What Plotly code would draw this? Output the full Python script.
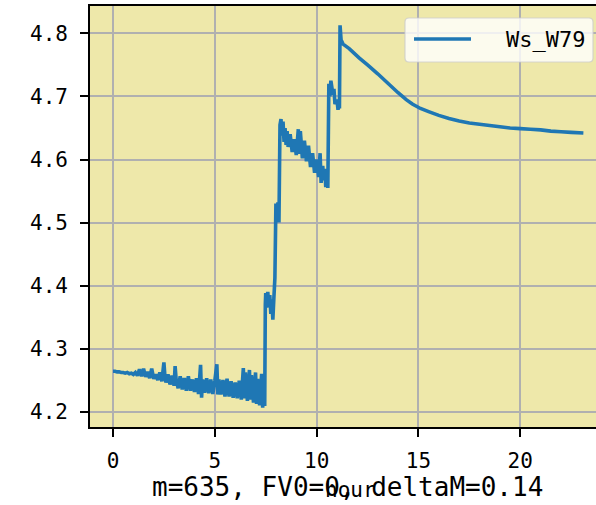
import plotly.graph_objects as go

# ---- data ----
series_name = "Ws_W79"
hours = [
    0.0, 0.1, 0.2, 0.3, 0.4, 0.5, 0.6, 0.7, 0.8, 0.9,
    1.0, 1.1, 1.2, 1.3, 1.4, 1.5, 1.6, 1.7, 1.8, 1.9,
    2.0, 2.1, 2.2, 2.3, 2.4, 2.5, 2.55, 2.6, 2.7, 2.8,
    2.9, 3.0, 3.05, 3.1, 3.2, 3.3, 3.4, 3.5, 3.6, 3.7,
    3.8, 3.9, 4.0, 4.1, 4.2, 4.3, 4.35, 4.4, 4.5, 4.6,
    4.7, 4.8, 4.9, 5.0, 5.1, 5.15, 5.2, 5.3, 5.4, 5.5,
    5.6, 5.7, 5.8, 5.9, 6.0, 6.1, 6.2, 6.3, 6.4, 6.45,
    6.5, 6.6, 6.7, 6.75, 6.8, 6.9, 7.0, 7.05, 7.1, 7.2,
    7.3, 7.35, 7.4, 7.45, 7.48, 7.5, 7.55, 7.6, 7.65, 7.7,
    7.75, 7.8, 7.85, 7.9, 7.95, 8.0, 8.05, 8.1, 8.15, 8.2,
    8.25, 8.3, 8.35, 8.4, 8.45, 8.5, 8.55, 8.6, 8.7, 8.8,
    8.9, 9.0, 9.1, 9.15, 9.2, 9.3, 9.4, 9.5, 9.6, 9.7,
    9.8, 9.9, 10.0, 10.1, 10.17, 10.22, 10.3, 10.35, 10.4, 10.45,
    10.5, 10.55, 10.6, 10.65, 10.7, 10.8, 10.85, 10.9, 11.0, 11.05,
    11.1, 11.12, 11.15, 11.2, 11.3, 11.6, 12.1, 12.5, 13.0, 13.5,
    14.0, 14.4, 14.7, 15.1, 15.5, 16.0, 16.5, 17.0, 17.5, 18.0,
    18.5, 19.0, 19.5, 20.0, 20.5, 21.0, 21.5, 22.0, 22.5, 23.1,
]
ws_w79 = [
    4.264, 4.264, 4.263, 4.263, 4.262, 4.262, 4.261, 4.262, 4.260, 4.261,
    4.259, 4.262, 4.257, 4.267, 4.256, 4.268, 4.255, 4.263, 4.253, 4.268,
    4.252, 4.259, 4.250, 4.262, 4.248, 4.278, 4.256, 4.246, 4.259, 4.243,
    4.257, 4.241, 4.272, 4.251, 4.237, 4.256, 4.235, 4.253, 4.233, 4.256,
    4.233, 4.251, 4.231, 4.253, 4.228, 4.274, 4.222, 4.251, 4.230, 4.253,
    4.229, 4.251, 4.228, 4.249, 4.275, 4.227, 4.251, 4.227, 4.250, 4.224,
    4.252, 4.224, 4.248, 4.222, 4.246, 4.221, 4.249, 4.219, 4.269, 4.221,
    4.262, 4.217, 4.266, 4.219, 4.258, 4.214, 4.262, 4.212, 4.252, 4.210,
    4.260, 4.206, 4.246, 4.209, 4.370, 4.388, 4.365, 4.390, 4.370, 4.385,
    4.355, 4.378, 4.346, 4.380, 4.412, 4.530, 4.505, 4.532, 4.500, 4.655,
    4.664, 4.638, 4.660, 4.628, 4.650, 4.623, 4.645, 4.620, 4.640, 4.612,
    4.632, 4.607, 4.648, 4.609, 4.645, 4.602, 4.630, 4.597, 4.622, 4.588,
    4.610, 4.579, 4.600, 4.572, 4.610, 4.563, 4.590, 4.567, 4.585, 4.556,
    4.580, 4.555, 4.720, 4.700, 4.725, 4.703, 4.712, 4.688, 4.695, 4.679,
    4.690, 4.681, 4.813, 4.790, 4.783, 4.776, 4.761, 4.750, 4.736, 4.721,
    4.706, 4.695, 4.688, 4.681, 4.676, 4.670, 4.665, 4.661, 4.658, 4.656,
    4.654, 4.652, 4.650, 4.649, 4.648, 4.647, 4.645, 4.644, 4.643, 4.642,
]
x_ticks = [0, 5, 10, 15, 20]
y_ticks = [4.2, 4.3, 4.4, 4.5, 4.6, 4.7, 4.8]
y_tick_labels = ["4.2", "4.3", "4.4", "4.5", "4.6", "4.7", "4.8"]
x_label = "hour"
footer = "m=635, FV0=0, deltaM=0.14"

# ---- styling ----
FONT = "DejaVu Sans Mono"
LINE_COLOR = "#1f77b4"
BG = "#EEE8AA"
W, H = 596, 505
ML, MR, MT, MB = 90, 0, 6, 78
PW, PH = W - ML - MR, H - MT - MB


def px_x(px):
    return (px - ML) / PW


def px_y(py):
    return (H - MB - py) / PH


fig = go.Figure()
fig.add_trace(go.Scatter(
    x=hours, y=ws_w79, mode="lines", name=series_name,
    line=dict(color=LINE_COLOR, width=3.6, simplify=False),
    showlegend=False, hoverinfo="skip",
))

axis_common = dict(
    showgrid=True, gridcolor="#b0b0b0", gridwidth=1.5,
    showline=True, linecolor="black", linewidth=1.7,
    ticks="outside", ticklen=8, tickwidth=1.5, tickcolor="black",
    tickfont=dict(family=FONT, size=21, color="black"),
    zeroline=False,
)
fig.update_xaxes(range=[-1.13, 23.72], tickvals=x_ticks, mirror=True,
                 ticklabelstandoff=6, **axis_common)
fig.update_yaxes(range=[4.1755, 4.8436], tickvals=y_ticks, ticktext=y_tick_labels,
                 mirror=False, ticklabelstandoff=8, **axis_common)

# legend box (matplotlib style, rounded)
x0, x1 = px_x(405), px_x(593)
y0, y1 = px_y(62), px_y(18)
rx, ry = 4 / PW, 4 / PH
path = (f"M {x0+rx},{y0} L {x1-rx},{y0} Q {x1},{y0} {x1},{y0+ry} "
        f"L {x1},{y1-ry} Q {x1},{y1} {x1-rx},{y1} L {x0+rx},{y1} "
        f"Q {x0},{y1} {x0},{y1-ry} L {x0},{y0+ry} Q {x0},{y0} {x0+rx},{y0} Z")
fig.add_shape(type="path", path=path, xref="paper", yref="paper",
              fillcolor="rgba(255,255,255,0.8)", line=dict(color="rgba(204,204,204,0.8)", width=1.2))
fig.add_shape(type="line", xref="paper", yref="paper",
              x0=px_x(414), x1=px_x(471), y0=px_y(39), y1=px_y(39),
              line=dict(color=LINE_COLOR, width=3.6))
fig.add_annotation(text=series_name, xref="paper", yref="paper",
                   x=px_x(504), y=px_y(39), xanchor="left", yanchor="middle",
                   showarrow=False, font=dict(family=FONT, size=22, color="black"))

# footer text and x label
fig.add_annotation(text=footer, xref="paper", yref="paper",
                   x=px_x(150), y=px_y(487), xanchor="left", yanchor="middle",
                   showarrow=False, font=dict(family=FONT, size=26, color="black"))
fig.add_annotation(text=x_label, xref="paper", yref="paper",
                   x=px_x(350), y=px_y(490), xanchor="center", yanchor="middle",
                   showarrow=False, font=dict(family=FONT, size=21, color="black"))

fig.update_layout(
    width=W, height=H,
    margin=dict(l=ML, r=MR, t=MT, b=MB),
    plot_bgcolor=BG, paper_bgcolor="white",
    showlegend=False,
)

fig.write_html("out.html", config={"displayModeBar": False},
               post_script="document.body.style.margin='0';document.body.style.overflow='hidden';")
